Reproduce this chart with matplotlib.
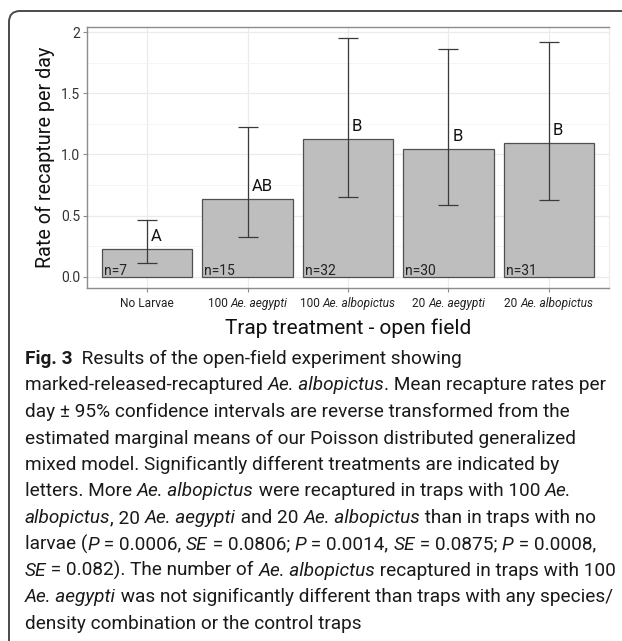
import matplotlib
matplotlib.use("Agg")
import matplotlib.pyplot as plt
from matplotlib.patches import FancyBboxPatch
from matplotlib.transforms import IdentityTransform

# Dados do gráfico
tick_prefix = ["No Larvae", "100 ", "100 ", "20 ", "20 "]
tick_species = ["", "Ae. aegypti", "Ae. albopictus", "Ae. aegypti", "Ae. albopictus"]
rate = [0.228, 0.634, 1.127, 1.042, 1.096]
ci_low = [0.112, 0.327, 0.651, 0.585, 0.626]
ci_high = [0.465, 1.222, 1.951, 1.859, 1.921]
letters = ["A", "AB", "B", "B", "B"]
n_traps = [7, 15, 32, 30, 31]
y_ticks = [0.0, 0.5, 1.0, 1.5, 2.0]
y_tick_labels = ["0.0", "0.5", "1.0", "1.5", "2"]

# Legenda da figura: cada linha é uma lista de (texto, estilo)
caption = [
    [("Fig. 3", "bold"), ("  Results of the open-field experiment showing", "normal")],
    [("marked-released-recaptured ", "normal"), ("Ae. albopictus", "italic"),
     (". Mean recapture rates per", "normal")],
    [("day \u00b1 95% confidence intervals are reverse transformed from the", "normal")],
    [("estimated marginal means of our Poisson distributed generalized", "normal")],
    [("mixed model. Significantly different treatments are indicated by", "normal")],
    [("letters. More ", "normal"), ("Ae. albopictus", "italic"),
     (" were recaptured in traps with 100 ", "normal"), ("Ae.", "italic")],
    [("albopictus", "italic"), (", 20 ", "normal"), ("Ae. aegypti", "italic"),
     (" and 20 ", "normal"), ("Ae. albopictus", "italic"), (" than in traps with no", "normal")],
    [("larvae (", "normal"), ("P", "italic"), (" = 0.0006, ", "normal"), ("SE", "italic"),
     (" = 0.0806; ", "normal"), ("P", "italic"), (" = 0.0014, ", "normal"), ("SE", "italic"),
     (" = 0.0875; ", "normal"), ("P", "italic"), (" = 0.0008,", "normal")],
    [("SE", "italic"), (" = 0.082). The number of ", "normal"), ("Ae. albopictus", "italic"),
     (" recaptured in traps with 100", "normal")],
    [("Ae. aegypti", "italic"), (" was not significantly different than traps with any species/", "normal")],
    [("density combination or the control traps", "normal")],
]

FONT = "Roboto"
W, H = 622, 641
plt.rcParams["font.family"] = [FONT, "DejaVu Sans"]

fig = plt.figure(figsize=(W / 100, H / 100), dpi=100)
renderer = fig.canvas.get_renderer()
px = IdentityTransform()


def largura(texto, size, style):
    # mede a largura real do texto (com espaços) usando um caractere sentinela
    kw = dict(fontsize=size, family=[FONT, "DejaVu Sans"], transform=px)
    if style == "bold":
        kw["fontweight"] = "bold"
    if style == "italic":
        kw["fontstyle"] = "italic"
    t1 = fig.text(0, 0, texto + "|", **kw)
    t2 = fig.text(0, 0, "|", **kw)
    w = t1.get_window_extent(renderer).width - t2.get_window_extent(renderer).width
    t1.remove()
    t2.remove()
    return w


def escrever(x, y, partes, size, ha="left", color="#222222"):
    # escreve segmentos com estilos diferentes lado a lado (coords em pixels, y do topo)
    larguras = [largura(t, size, s) for t, s in partes]
    if ha == "center":
        x = x - sum(larguras) / 2
    for (t, s), w in zip(partes, larguras):
        kw = dict(fontsize=size, family=[FONT, "DejaVu Sans"], transform=px,
                  va="baseline", ha="left", color=color)
        if s == "bold":
            kw["fontweight"] = "bold"
        if s == "italic":
            kw["fontstyle"] = "italic"
        fig.text(x, H - y, t, **kw)
        x += w


# Moldura arredondada em volta da figura
moldura = FancyBboxPatch((9, -30), 700, H - 11 + 30, boxstyle="round,pad=0,rounding_size=11",
                         transform=px, facecolor="none", edgecolor="#4a4a4a", linewidth=1.4)
fig.add_artist(moldura)

ax = fig.add_axes([87 / W, 1 - 288 / H, (609 - 87) / W, (288 - 27) / H])
x = list(range(len(rate)))

ax.bar(x, rate, width=0.9, color="#bebebe", edgecolor="#505050", linewidth=0.9, zorder=2)
ax.vlines(x, ci_low, ci_high, color="#3a3a3a", linewidth=0.9, zorder=3)
ax.hlines(ci_low, [i - 0.1 for i in x], [i + 0.1 for i in x], color="#3a3a3a", linewidth=0.9, zorder=3)
ax.hlines(ci_high, [i - 0.1 for i in x], [i + 0.1 for i in x], color="#3a3a3a", linewidth=0.9, zorder=3)

for i in x:
    ax.text(i + 0.04, rate[i] + 0.065, letters[i], fontsize=12, color="#111111",
            ha="left", va="baseline", zorder=4)
    ax.text(i - 0.43, 0.02, "n=%d" % n_traps[i], fontsize=10, color="#222222",
            ha="left", va="baseline", zorder=4)

ax.set_xlim(-0.6, 4.6)
ax.set_ylim(-0.09, 2.041)
ax.set_xticks(x)
ax.set_xticklabels([""] * len(x))
ax.set_yticks(y_ticks)
ax.set_yticklabels(y_tick_labels, fontsize=10, color="#333333")
ax.set_yticks([0.25, 0.75, 1.25, 1.75], minor=True)
ax.grid(True, which="major", color="#ebebeb", linewidth=0.9, zorder=0)
ax.grid(True, which="minor", axis="y", color="#f4f4f4", linewidth=0.6, zorder=0)
ax.set_axisbelow(True)
ax.tick_params(axis="both", which="major", length=3, color="#8c8c8c", width=0.8, pad=2)
ax.tick_params(axis="y", which="minor", length=0)
for lado in ["left", "top", "bottom"]:
    ax.spines[lado].set_color("#8c8c8c")
    ax.spines[lado].set_linewidth(1.0)
ax.spines["right"].set_color("#ececec")

ax.set_ylabel("Rate of recapture per day", fontsize=14.2, color="#111111", labelpad=4)
ax.set_xlabel("Trap treatment - open field", fontsize=15, color="#111111", labelpad=17)

# Rótulos do eixo x com nome da espécie em itálico
fig.canvas.draw()
for i in x:
    cx = ax.transData.transform((i, 0))[0]
    partes = [(tick_prefix[i], "normal")]
    if tick_species[i]:
        partes.append((tick_species[i], "italic"))
    escrever(cx, 307, partes, 8.6, ha="center", color="#222222")

# Texto da legenda
y0 = 364
for k, linha in enumerate(caption):
    escrever(25, y0 + k * 26.5, linha, 13.7, color="#1a1a1a")

fig.savefig("out.png", dpi=100)
